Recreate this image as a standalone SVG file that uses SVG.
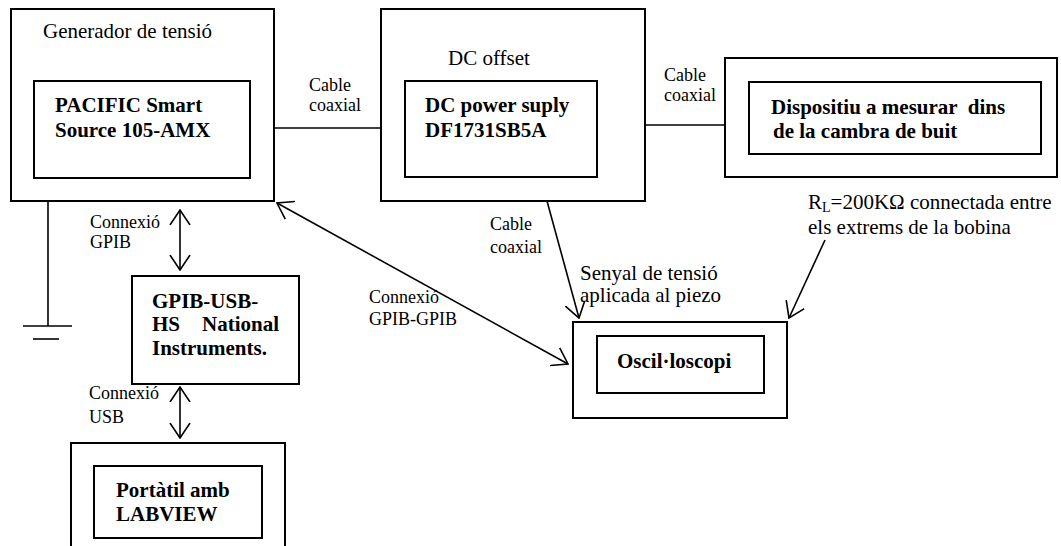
<svg xmlns="http://www.w3.org/2000/svg" width="1061" height="546" viewBox="0 0 1061 546">
<defs>
<style>
.box{fill:none;stroke:#000;stroke-width:2}
.ln{fill:none;stroke:#000;stroke-width:1.6}
.arr{fill:none;stroke:#000;stroke-width:1.6;marker-end:url(#ah)}
.darr{fill:none;stroke:#000;stroke-width:1.6;marker-end:url(#ah);marker-start:url(#ahs)}
.t{font-family:"Liberation Serif","Times New Roman",serif;font-size:21px;fill:#000}
.s{font-family:"Liberation Serif","Times New Roman",serif;font-size:18px;fill:#000}
.b{font-family:"Liberation Serif","Times New Roman",serif;font-size:21px;font-weight:bold;fill:#000}
</style>
<marker id="ah" viewBox="0 0 16 22" refX="15" refY="11" markerWidth="16" markerHeight="22" markerUnits="userSpaceOnUse" orient="auto">
<path d="M0,1 L15,11 L0,21" fill="none" stroke="#000" stroke-width="1.6"/>
</marker>
<marker id="ahs" viewBox="0 0 16 22" refX="1" refY="11" markerWidth="16" markerHeight="22" markerUnits="userSpaceOnUse" orient="auto">
<path d="M16,1 L1,11 L16,21" fill="none" stroke="#000" stroke-width="1.6"/>
</marker>
</defs>
<rect width="1061" height="546" fill="#fff"/>

<g id="generador">
<rect class="box" x="11" y="9" width="263" height="192"/>
<text class="t" x="43" y="38">Generador de tensió</text>
<rect class="box" x="34" y="81" width="216" height="97"/>
<text class="b" x="55" y="112">PACIFIC Smart</text>
<text class="b" x="55" y="137">Source 105-AMX</text>
</g>

<g id="dcoffset">
<rect class="box" x="381" y="9" width="264" height="192"/>
<text class="t" x="448" y="65">DC offset</text>
<rect class="box" x="405" y="81" width="192" height="96"/>
<text class="b" x="425" y="112">DC power suply</text>
<text class="b" x="425" y="137">DF1731SB5A</text>
</g>

<g id="dispositiu">
<rect class="box" x="725" y="58" width="332" height="119"/>
<rect class="box" x="749" y="82" width="292" height="72"/>
<text class="b" x="771" y="114" xml:space="preserve">Dispositiu a mesurar  dins</text>
<text class="b" x="773" y="138">de la cambra de buit</text>
</g>

<g id="gpibusb">
<rect class="box" x="132" y="276" width="167" height="108"/>
<text class="b" x="152" y="308">GPIB-USB-</text>
<text class="b" x="152" y="331">HS</text>
<text class="b" x="279" y="331" text-anchor="end">National</text>
<text class="b" x="152" y="355">Instruments.</text>
</g>

<g id="portatil">
<rect class="box" x="71" y="443" width="214" height="130"/>
<rect class="box" x="94" y="466" width="168" height="72"/>
<text class="b" x="116" y="497">Portàtil amb</text>
<text class="b" x="116" y="521">LABVIEW</text>
</g>

<g id="osciloscopi">
<rect class="box" x="573" y="322" width="214" height="96"/>
<rect class="box" x="597" y="336" width="167" height="57"/>
<text class="b" x="617" y="368">Oscil·loscopi</text>
</g>

<g id="ground">
<line class="ln" x1="48" y1="201" x2="48" y2="326"/>
<line class="ln" x1="23" y1="326" x2="72" y2="326"/>
<line class="ln" x1="33" y1="339" x2="59" y2="339"/>
</g>

<g id="connectors">
<line class="ln" x1="274" y1="128" x2="381" y2="128"/>
<line class="ln" x1="645" y1="125" x2="725" y2="125"/>
<line class="darr" x1="180" y1="210" x2="180" y2="270"/>
<line class="darr" x1="180" y1="387" x2="180" y2="438"/>
<line class="darr" x1="277" y1="203" x2="568" y2="364"/>
<line class="arr" x1="547" y1="201" x2="579" y2="318"/>
<line class="arr" x1="825" y1="240" x2="789" y2="318"/>
</g>

<g id="labels">
<text class="s" x="309" y="91">Cable</text>
<text class="s" x="309" y="111">coaxial</text>
<text class="s" x="664" y="81">Cable</text>
<text class="s" x="664" y="101">coaxial</text>
<text class="s" x="490" y="230">Cable</text>
<text class="s" x="490" y="253">coaxial</text>
<text class="s" x="90" y="228">Connexió</text>
<text class="s" x="90" y="248">GPIB</text>
<text class="s" x="89" y="399">Connexió</text>
<text class="s" x="89" y="423">USB</text>
<text class="s" x="369" y="303">Connexió</text>
<text class="s" x="369" y="325">GPIB-GPIB</text>
<text class="t" x="580" y="280">Senyal de tensió</text>
<text class="t" x="580" y="302">aplicada al piezo</text>
<text class="t" x="808" y="209">R<tspan font-size="14" dy="3">L</tspan><tspan dy="-3">=200KΩ connectada entre</tspan></text>
<text class="t" x="808" y="234">els extrems de la bobina</text>
</g>
</svg>
